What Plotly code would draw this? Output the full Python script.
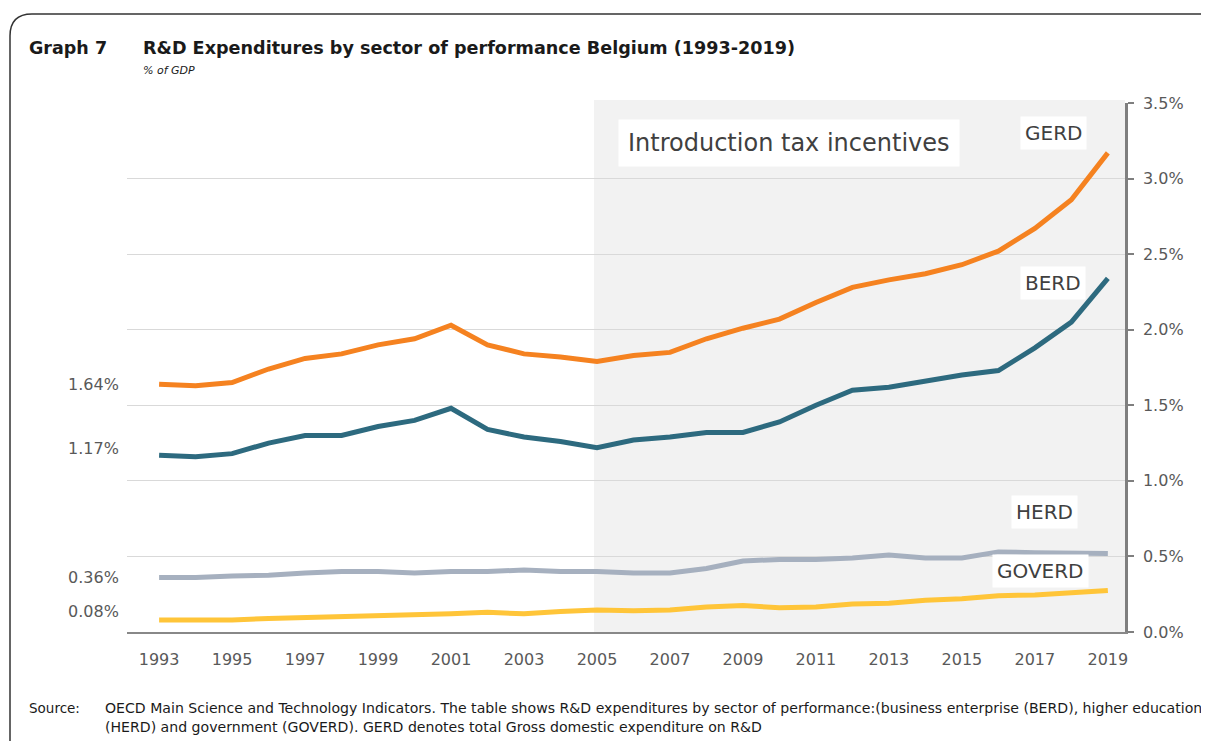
import plotly.graph_objects as go

years = list(range(1993, 2020))
gerd = [1.64, 1.63, 1.65, 1.74, 1.81, 1.84, 1.90, 1.94, 2.03, 1.90, 1.84, 1.82, 1.79,
        1.83, 1.85, 1.94, 2.01, 2.07, 2.18, 2.28, 2.33, 2.37, 2.43, 2.52, 2.67, 2.86, 3.17]
berd = [1.17, 1.16, 1.18, 1.25, 1.30, 1.30, 1.36, 1.40, 1.48, 1.34, 1.29, 1.26, 1.22,
        1.27, 1.29, 1.32, 1.32, 1.39, 1.50, 1.60, 1.62, 1.66, 1.70, 1.73, 1.88, 2.05, 2.34]
herd = [0.36, 0.36, 0.37, 0.375, 0.39, 0.40, 0.40, 0.39, 0.40, 0.40, 0.41, 0.40, 0.40,
        0.39, 0.39, 0.42, 0.47, 0.48, 0.48, 0.49, 0.51, 0.49, 0.49, 0.53, 0.525, 0.52, 0.52]
goverd = [0.08, 0.08, 0.08, 0.09, 0.095, 0.105, 0.11, 0.115, 0.12, 0.13, 0.12, 0.135, 0.145,
          0.14, 0.145, 0.165, 0.175, 0.16, 0.165, 0.185, 0.19, 0.21, 0.22, 0.24, 0.245, 0.26, 0.275]
series_names = ["GERD", "BERD", "HERD", "GOVERD"]
series_colors = ["#F58220", "#2D6A7F", "#A6B0BF", "#FFC539"]
x_ticks = list(range(1993, 2020, 2))
y_ticks = [0.0, 0.5, 1.0, 1.5, 2.0, 2.5, 3.0, 3.5]

FONT = "DejaVu Sans"
GREY = "#595959"

fig = go.Figure()
for name, vals, col in zip(series_names, [gerd, berd, herd, goverd], series_colors):
    fig.add_trace(go.Scatter(x=years, y=vals, mode="lines", name=name,
                             line=dict(color=col, width=5), showlegend=False))

# page offset (body margin) compensation
OFF = 8
W, H = 1209 - OFF, 741 - OFF
L, R, T, B = 127 - OFF, 84, 103 - OFF, 109
pw, ph = W - L - R, H - T - B


def px(x):
    # x given in screen pixels
    return (x - OFF - L) / pw


def py(y):
    return (H - B - (y - OFF)) / ph


shapes = []
shapes.append(dict(type="rect", xref="x", yref="paper", x0=2004.92, x1=2019.47,
                   y0=0, y1=py(100), fillcolor="#F2F2F2", line=dict(width=0), layer="below"))
fl, ft, fb, fr = px(10), py(14), py(780), px(1240)
dx, dy = 22 / pw, 22 / ph
shapes.append(dict(type="path", xref="paper", yref="paper",
                   path=f"M {fl},{fb} L {fl},{ft - dy} Q {fl},{ft} {fl + dx},{ft} L {fr},{ft}",
                   line=dict(color="#333333", width=1.5)))

annotations = []
annotations.append(dict(xref="paper", yref="paper", x=px(27), y=py(48), xanchor="left",
                        yanchor="middle", showarrow=False, text="<b>Graph 7</b>",
                        font=dict(family=FONT, size=17.5, color="#1a1a1a")))
annotations.append(dict(xref="paper", yref="paper", x=px(141), y=py(48), xanchor="left",
                        yanchor="middle", showarrow=False,
                        text="<b>R&D Expenditures by sector of performance Belgium (1993-2019)</b>",
                        font=dict(family=FONT, size=17.6, color="#1a1a1a")))
annotations.append(dict(xref="paper", yref="paper", x=px(141), y=py(70), xanchor="left",
                        yanchor="middle", showarrow=False, text="<i>% of GDP</i>",
                        font=dict(family=FONT, size=11, color="#1a1a1a")))
annotations.append(dict(xref="paper", yref="paper", x=px(27), y=py(708), xanchor="left",
                        yanchor="middle", showarrow=False, text="Source:",
                        font=dict(family=FONT, size=13.5, color="#1a1a1a")))
annotations.append(dict(xref="paper", yref="paper", x=px(103), y=py(708), xanchor="left",
                        yanchor="middle", showarrow=False,
                        text="OECD Main Science and Technology Indicators. The table shows R&D expenditures by sector of performance:(business enterprise (BERD), higher education",
                        font=dict(family=FONT, size=14.1, color="#1a1a1a")))
annotations.append(dict(xref="paper", yref="paper", x=px(103), y=py(727), xanchor="left",
                        yanchor="middle", showarrow=False,
                        text="(HERD) and government (GOVERD). GERD denotes total Gross domestic expenditure on R&D",
                        font=dict(family=FONT, size=14.1, color="#1a1a1a")))

shifts = [0, 7, 0, 8]
for vals, s in zip([gerd, berd, herd, goverd], shifts):
    annotations.append(dict(xref="paper", yref="y", x=px(121), y=vals[0], yshift=s,
                            xanchor="right", yanchor="middle", showarrow=False,
                            text=f"{vals[0]:.2f}%", font=dict(family=FONT, size=16, color=GREY)))

label_pos = {"GERD": (1053, 133), "BERD": (1053, 283), "HERD": (1044, 512), "GOVERD": (1040, 571)}
for name in series_names:
    x, y = label_pos[name]
    annotations.append(dict(xref="paper", yref="paper", x=px(x), y=py(y), xanchor="center",
                            yanchor="middle", showarrow=False, text=name, bgcolor="white",
                            borderpad=4, font=dict(family=FONT, size=20, color="#404040")))

annotations.append(dict(xref="paper", yref="paper", x=px(789), y=py(143), xanchor="center",
                        yanchor="middle", showarrow=False, text="Introduction tax incentives",
                        bgcolor="white", borderpad=9,
                        font=dict(family=FONT, size=24, color="#404040")))

fig.update_layout(
    width=W, height=H,
    margin=dict(l=L, r=R, t=T, b=B, autoexpand=False),
    paper_bgcolor="white", plot_bgcolor="white",
    shapes=shapes, annotations=annotations,
    font=dict(family=FONT, color=GREY),
    xaxis=dict(range=[1992.12, 2019.47], tickvals=x_ticks, ticktext=[str(t) for t in x_ticks],
               showgrid=False, zeroline=False, showline=True, linecolor="#888888", linewidth=1.5,
               ticks="", ticklabelstandoff=12, tickfont=dict(family=FONT, size=16, color=GREY)),
    yaxis=dict(range=[0, 3.5], side="right", tickvals=y_ticks,
               ticktext=[f"{v:.1f}%" for v in y_ticks],
               showgrid=True, gridcolor="#D9D9D9", gridwidth=1.3, zeroline=False,
               showline=True, linecolor="#7F7F7F", linewidth=2.5, ticks="outside", ticklen=6,
               tickwidth=2, tickcolor="#7F7F7F", ticklabelstandoff=6,
               tickfont=dict(family=FONT, size=16, color=GREY)),
)

fig.write_html("out.html")
